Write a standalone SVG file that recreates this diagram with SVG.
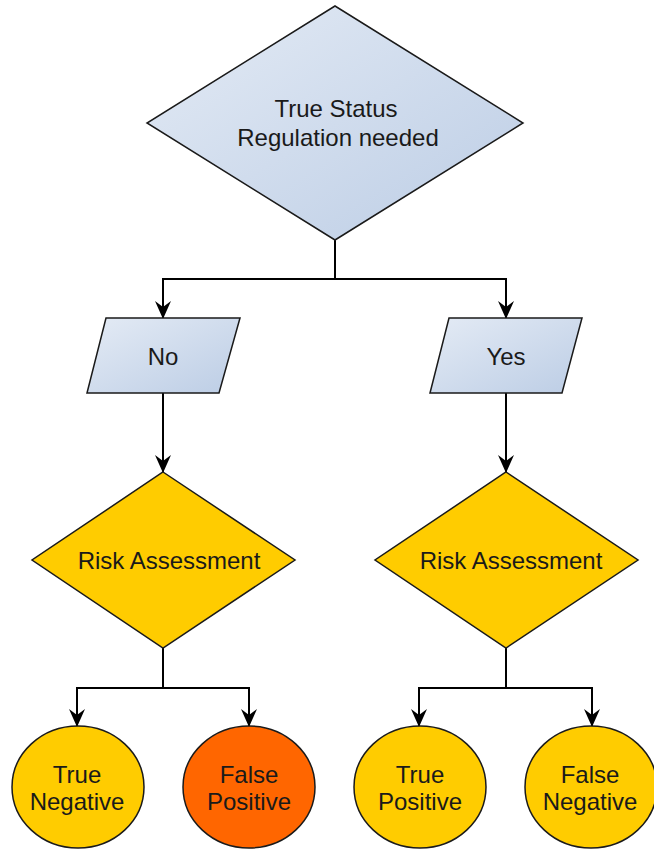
<svg xmlns="http://www.w3.org/2000/svg" width="654" height="849" viewBox="0 0 654 849">
<defs>
<linearGradient id="blue" x1="0" y1="0" x2="1" y2="1">
<stop offset="0" stop-color="#e4ebf5"/>
<stop offset="1" stop-color="#bccde5"/>
</linearGradient>
<marker id="arr" markerUnits="userSpaceOnUse" markerWidth="18" markerHeight="18" viewBox="0 0 18 18" refX="17" refY="9" orient="auto">
<path d="M0,1 L18,9 L0,17 L6,9 z" fill="#000"/>
</marker>
</defs>
<style>
.b{fill:url(#blue);stroke:#1a1a1a;stroke-width:1.5}
.y{fill:#ffcc00;stroke:#1a1a1a;stroke-width:1.5}
.o{fill:#ff6600;stroke:#1a1a1a;stroke-width:1.5}
.c{fill:none;stroke:#000;stroke-width:2;marker-end:url(#arr)}
text{font-family:"Liberation Sans",Arial,sans-serif;font-size:24px;fill:#1a1a1a;text-anchor:middle}
</style>
<g id="edges">
<path class="c" d="M335,240 V279 H163 V318"/>
<path class="c" d="M335,279 H506 V318"/>
<path class="c" d="M163,393 V472"/>
<path class="c" d="M506,393 V472"/>
<path class="c" d="M163,648 V688 H77 V726"/>
<path class="c" d="M163,688 H249 V726"/>
<path class="c" d="M506,648 V688 H419 V726"/>
<path class="c" d="M506,688 H592 V726"/>
</g>
<g id="status">
<polygon class="b" points="335,6 523,123 335,240 147,123"/>
<text x="336" y="117">True Status</text>
<text x="338" y="146">Regulation needed</text>
</g>
<g id="no">
<polygon class="b" points="106,318 240,318 219,393 87,393"/>
<text x="163" y="365">No</text>
</g>
<g id="yes">
<polygon class="b" points="449,318 582,318 562,393 430,393"/>
<text x="506" y="365">Yes</text>
</g>
<g id="risk-no">
<polygon class="y" points="163,472 295,560 163,648 32,560"/>
<text x="169" y="569">Risk Assessment</text>
</g>
<g id="risk-yes">
<polygon class="y" points="506,472 638,560 506,648 375,560"/>
<text x="511" y="569">Risk Assessment</text>
</g>
<g id="true-negative">
<ellipse class="y" cx="78" cy="787" rx="66" ry="61"/>
<text x="77" y="783">True</text>
<text x="77" y="810">Negative</text>
</g>
<g id="false-positive">
<ellipse class="o" cx="249" cy="787" rx="66" ry="61"/>
<text x="249" y="783">False</text>
<text x="249" y="810">Positive</text>
</g>
<g id="true-positive">
<ellipse class="y" cx="420" cy="787" rx="66" ry="61"/>
<text x="420" y="783">True</text>
<text x="420" y="810">Positive</text>
</g>
<g id="false-negative">
<ellipse class="y" cx="591" cy="787" rx="66" ry="61"/>
<text x="590" y="783">False</text>
<text x="590" y="810">Negative</text>
</g>
</svg>
